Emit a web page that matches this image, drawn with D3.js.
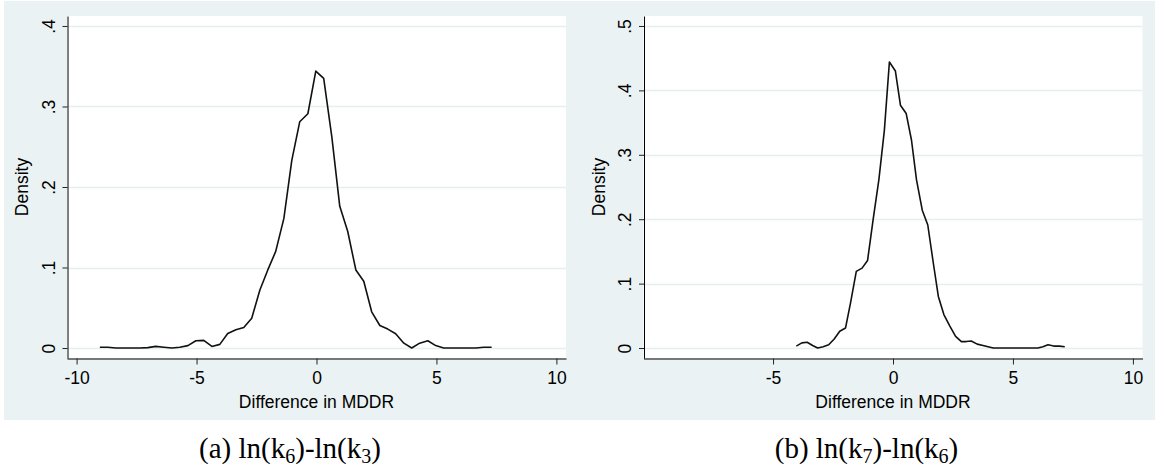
<!DOCTYPE html>
<html>
<head>
<meta charset="utf-8">
<script src="https://cdn.jsdelivr.net/npm/d3@7"></script>
<style>
  body { margin: 0; background: #fff; }
  svg { display: block; }
  .tick text { font-family: "Liberation Sans", Arial, sans-serif; font-size: 17.5px; fill: #000; }
  .label { font-family: "Liberation Sans", Arial, sans-serif; font-size: 17.5px; fill: #000; }
  .caption { font-family: "Liberation Serif", "Times New Roman", serif; font-size: 29px; fill: #000; }
</style>
</head>
<body>
<svg id="chart" width="1155" height="468"></svg>
<script>
// panel (a): ln(k6)-ln(k3)
const mddrA = [-9.03, -8.70, -8.36, -8.03, -7.70, -7.36, -7.03, -6.70, -6.36, -6.03,
               -5.70, -5.36, -5.03, -4.70, -4.36, -4.03, -3.70, -3.36, -3.03, -2.70,
               -2.36, -2.03, -1.70, -1.36, -1.03, -0.70, -0.36, -0.03, 0.30, 0.64,
               0.97, 1.30, 1.64, 1.97, 2.30, 2.64, 2.97, 3.30, 3.64, 3.97,
               4.30, 4.64, 4.97, 5.30, 5.64, 5.97, 6.30, 6.64, 6.97, 7.30];
const densityA = [0.001, 0.001, 0.0, 0.0, 0.0, 0.0, 0.0005, 0.002, 0.001, 0.0,
                  0.001, 0.003, 0.009, 0.0095, 0.002, 0.0045, 0.018, 0.0227, 0.0256, 0.037,
                  0.072, 0.097, 0.120, 0.161, 0.233, 0.281, 0.291, 0.344, 0.335, 0.262,
                  0.176, 0.145, 0.097, 0.083, 0.045, 0.028, 0.0235, 0.0177, 0.006, 0.0,
                  0.006, 0.009, 0.003, 0.0, 0.0, 0.0, 0.0, 0.0, 0.001, 0.001];

// panel (b): ln(k7)-ln(k6)
const mddrB = [-4.03, -3.80, -3.58, -3.35, -3.14, -2.91, -2.68, -2.45, -2.22, -1.98,
               -1.77, -1.53, -1.29, -1.06, -0.83, -0.59, -0.36, -0.15, 0.10, 0.31,
               0.55, 0.77, 0.98, 1.22, 1.45, 1.68, 1.89, 2.12, 2.37, 2.61,
               2.85, 3.05, 3.26, 3.51, 3.75, 3.96, 4.18, 4.41, 4.64, 4.87,
               5.10, 5.33, 5.56, 5.79, 6.04, 6.25, 6.46, 6.70, 6.93, 7.16];
const densityB = [0.003, 0.008, 0.009, 0.004, 0.0, 0.002, 0.005, 0.014, 0.026, 0.031,
                  0.070, 0.119, 0.124, 0.136, 0.199, 0.261, 0.338, 0.444, 0.430, 0.377,
                  0.364, 0.323, 0.261, 0.214, 0.191, 0.132, 0.080, 0.052, 0.034, 0.018,
                  0.010, 0.010, 0.011, 0.006, 0.004, 0.002, 0.0, 0.0, 0.0, 0.0,
                  0.0, 0.0, 0.0, 0.0, 0.0, 0.002, 0.005, 0.003, 0.003, 0.002];

const xTicksA = [-10, -5, 0, 5, 10];
const xTicksB = [-5, 0, 5, 10];
const yTicksA = [0, 0.1, 0.2, 0.3, 0.4];
const yTicksB = [0, 0.1, 0.2, 0.3, 0.4, 0.5];
const yLabelsA = ["0", ".1", ".2", ".3", ".4"];
const yLabelsB = ["0", ".1", ".2", ".3", ".4", ".5"];
const xTitle = "Difference in MDDR";
const yTitle = "Density";

const svg = d3.select("#chart");

// stata graph region
svg.append("rect")
    .attr("x", 4).attr("y", 1)
    .attr("width", 1151).attr("height", 419)
    .attr("fill", "#eaf2f3");

function drawPanel(offsetX, xs, ys, xTicks, yTicks, yLabels, yMax, caption) {
    const left = offsetX + 67, right = offsetX + 566;
    const top = 16, bottom = 358;
    const yPad = yMax * 0.031;

    const x = d3.scaleLinear().domain([-10.4, 10.4]).range([left, right]);
    const y = d3.scaleLinear().domain([-yPad, yMax + yPad]).range([bottom, top]);

    svg.append("rect")
        .attr("x", left).attr("y", top)
        .attr("width", right - left).attr("height", bottom - top)
        .attr("fill", "#fff");

    svg.append("g").selectAll("line")
        .data(yTicks)
        .enter().append("line")
        .attr("x1", left).attr("x2", right)
        .attr("y1", d => Math.round(y(d)) + 0.5).attr("y2", d => Math.round(y(d)) + 0.5)
        .attr("stroke", "#e6eff0")
        .attr("stroke-width", 1.5);

    const line = d3.line()
        .x(d => x(d[0]))
        .y(d => y(d[1]));

    svg.append("path")
        .datum(d3.zip(xs, ys))
        .attr("d", line)
        .attr("fill", "none")
        .attr("stroke", "#111")
        .attr("stroke-width", 1.6)
        .attr("stroke-linejoin", "round");

    // stata prints a plain hyphen for negatives
    const gx = svg.append("g")
        .attr("transform", "translate(0," + (bottom + 0.5) + ")")
        .call(d3.axisBottom(x).tickValues(xTicks).tickSize(6).tickSizeOuter(0).tickFormat(d => String(d)));
    gx.selectAll(".tick text").attr("y", 25).attr("dy", 0);

    const gy = svg.append("g")
        .attr("transform", "translate(" + (left + 0.5) + ",0)")
        .call(d3.axisLeft(y).tickValues(yTicks).tickSize(5).tickSizeOuter(0)
            .tickFormat((d, i) => yLabels[i]));
    gy.selectAll(".tick text")
        .attr("transform", "rotate(-90)")
        .attr("x", 0).attr("y", -13).attr("dy", 0)
        .attr("text-anchor", "middle");

    svg.selectAll(".domain").attr("stroke", "#000");
    svg.selectAll(".tick line").attr("stroke", "#222");

    svg.append("text")
        .attr("class", "label")
        .attr("text-anchor", "middle")
        .attr("x", (left + right) / 2)
        .attr("y", 408)
        .text(xTitle);

    svg.append("text")
        .attr("class", "label")
        .attr("text-anchor", "middle")
        .attr("transform", "translate(" + (offsetX + 28) + "," + ((top + bottom) / 2) + ") rotate(-90)")
        .text(yTitle);

    const cap = svg.append("text")
        .attr("class", "caption")
        .attr("text-anchor", "middle")
        .attr("x", offsetX + 290)
        .attr("y", 458);
    caption.forEach(part => {
        if (part.sub) {
            cap.append("tspan").attr("font-size", "20px").attr("dy", 5).text(part.t);
        } else {
            cap.append("tspan").attr("dy", part.after ? -5 : 0).text(part.t);
        }
    });
}

drawPanel(0, mddrA, densityA, xTicksA, yTicksA, yLabelsA, 0.4,
    [{t: "(a) ln(k"}, {t: "6", sub: true}, {t: ")-ln(k", after: true}, {t: "3", sub: true}, {t: ")", after: true}]);
drawPanel(576.5, mddrB, densityB, xTicksB, yTicksB, yLabelsB, 0.5,
    [{t: "(b) ln(k"}, {t: "7", sub: true}, {t: ")-ln(k", after: true}, {t: "6", sub: true}, {t: ")", after: true}]);
</script>
</body>
</html>
